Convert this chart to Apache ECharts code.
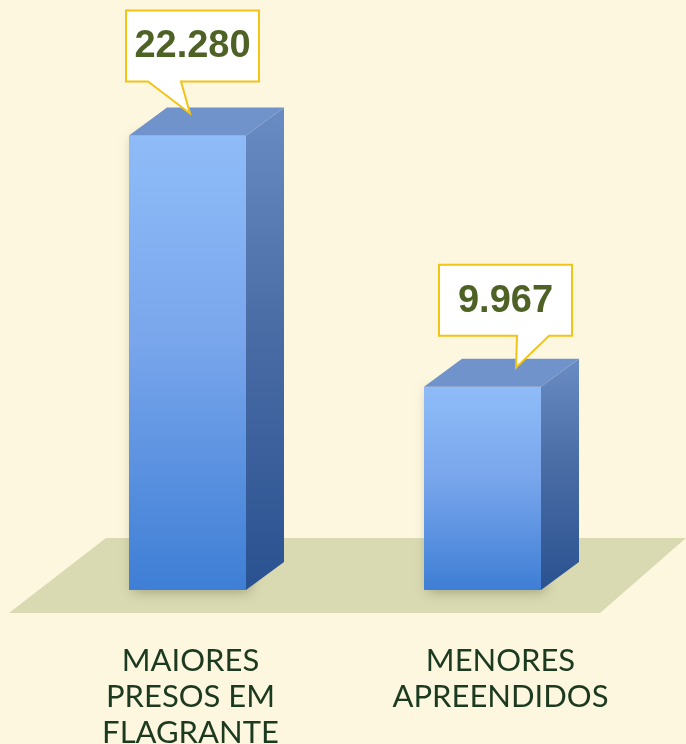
<!DOCTYPE html>
<html>
<head>
<meta charset="utf-8">
<script src="https://cdn.jsdelivr.net/npm/echarts@6/dist/echarts.min.js"></script>
<style>
  html, body { margin: 0; padding: 0; background: #fdf7df; }
  #chart { width: 686px; height: 744px; }
</style>
</head>
<body>
<div id="chart"></div>
<script>
const categories = ['MAIORES\nPRESOS EM\nFLAGRANTE', 'MENORES\nAPREENDIDOS'];
const values = [22280, 9967];

// callout placement tweaks (tip offset from bar front-left, box offset from tip)
const callouts = [
    { tipX: 61, tipY: 22, boxDx: -64, tailL: -42, tailR: -9 },
    { tipX: 92, tipY: 19, boxDx: -77, tailL: 1, tailR: 33 }
];
// nudges for the category labels (left / right padding)
const labelPad = [[0, 10], [20, 0]];

const fmt = v => String(v).replace(/\B(?=(\d{3})+(?!\d))/g, '.');

const chart = echarts.init(document.getElementById('chart'));

function renderBar(params, api) {
    const i = api.value(0);
    const v = api.value(1);
    const top = api.coord([i, v]);
    const base = api.coord([i, 0]);
    const w = 117, dx = 38, dy = 28;
    const x0 = top[0] - 8 - w / 2;
    const x1 = x0 + w;
    const yt = top[1], yb = base[1];

    const c = callouts[i];
    const tipX = x0 + c.tipX, tipY = yt - c.tipY;
    const bw = 133, bh = 71;
    const bx = tipX + c.boxDx, by = tipY - 32 - bh;

    return {
        type: 'group',
        children: [
            {
                type: 'rect',
                shape: { x: x0, y: yt, width: w, height: yb - yt },
                style: {
                    fill: new echarts.graphic.LinearGradient(0, 0, 0, 1, [
                        { offset: 0, color: '#8fbcf8' },
                        { offset: 0.45, color: '#79a6ec' },
                        { offset: 1, color: '#3e7ed5' }
                    ]),
                    shadowBlur: 12,
                    shadowColor: 'rgba(60,60,20,0.35)',
                    shadowOffsetX: 4,
                    shadowOffsetY: 2
                }
            },
            {
                type: 'polygon',
                shape: { points: [[x1, yt], [x1 + dx, yt - dy], [x1 + dx, yb - dy], [x1, yb]] },
                style: {
                    fill: new echarts.graphic.LinearGradient(0, 0, 0, 1, [
                        { offset: 0, color: '#6a8cc4' },
                        { offset: 0.45, color: '#4b6da6' },
                        { offset: 1, color: '#2a5290' }
                    ])
                }
            },
            {
                type: 'polygon',
                shape: { points: [[x0, yt], [x0 + dx, yt - dy], [x1 + dx, yt - dy], [x1, yt]] },
                style: { fill: '#7093cb' }
            },
            {
                type: 'polygon',
                shape: {
                    points: [[bx, by], [bx + bw, by], [bx + bw, by + bh], [tipX + c.tailR, by + bh],
                        [tipX, tipY], [tipX + c.tailL, by + bh], [bx, by + bh]]
                },
                style: { fill: '#ffffff', stroke: '#f2c417', lineWidth: 2 }
            },
            {
                type: 'text',
                style: {
                    x: bx + bw / 2,
                    y: by + bh / 2 + 1,
                    text: fmt(v),
                    align: 'center',
                    verticalAlign: 'middle',
                    fill: '#4e6226',
                    font: 'bold 38px "Liberation Sans", Arial, sans-serif'
                }
            }
        ]
    };
}

const labelStyle = { fontSize: 31, lineHeight: 36, color: '#1c3a1f', fontFamily: 'Lato' };

const option = {
    backgroundColor: '#fdf7df',
    animation: false,
    grid: { left: 48, right: 48, top: 80, bottom: 154, outerBoundsMode: 'none' },
    graphic: [
        {
            type: 'polygon',
            z: 0,
            shape: { points: [[9, 613], [600, 613], [686, 538], [106, 538]] },
            style: { fill: '#d9d9b2' }
        }
    ],
    xAxis: {
        type: 'category',
        data: categories,
        axisLine: { show: false },
        axisTick: { show: false },
        axisLabel: {
            margin: 53,
            formatter: (val, idx) => val.split('\n').map(l => '{c' + idx + '|' + l + '}').join('\n'),
            rich: {
                c0: Object.assign({ padding: [0, labelPad[0][1], 0, labelPad[0][0]] }, labelStyle),
                c1: Object.assign({ padding: [0, labelPad[1][1], 0, labelPad[1][0]] }, labelStyle)
            }
        }
    },
    yAxis: {
        type: 'value',
        min: 0,
        max: 25000,
        show: false,
        splitLine: { show: false }
    },
    series: [
        {
            type: 'custom',
            z: 5,
            renderItem: renderBar,
            encode: { x: 0, y: 1 },
            data: values.map((v, i) => [i, v])
        }
    ]
};

chart.setOption(option);
</script>
</body>
</html>
